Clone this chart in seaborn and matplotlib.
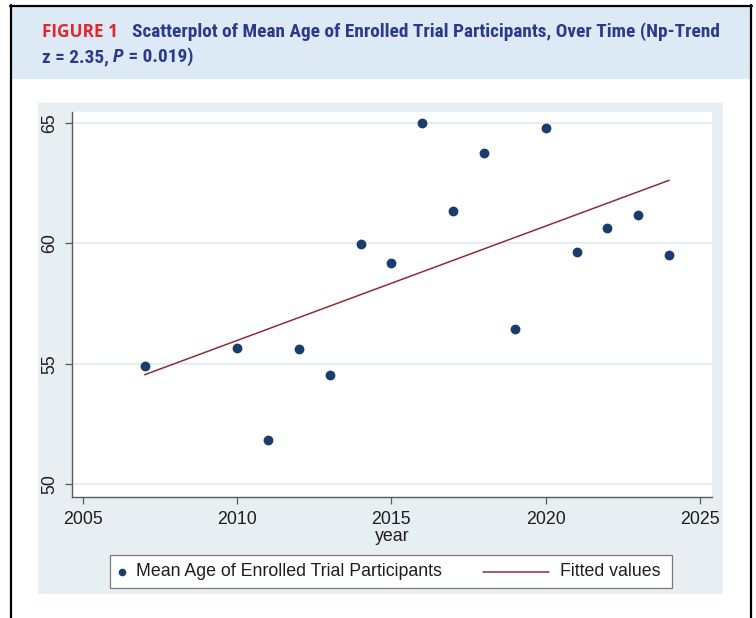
import matplotlib
matplotlib.use("Agg")
import matplotlib.pyplot as plt
from matplotlib.patches import Rectangle
from matplotlib.lines import Line2D
import pandas as pd
import seaborn as sns

# Mean age of enrolled participants by trial year
years = [2007, 2010, 2011, 2012, 2013, 2014, 2015, 2016,
         2017, 2018, 2019, 2020, 2021, 2022, 2023, 2024]
mean_age = [54.89, 55.64, 51.83, 55.60, 54.53, 59.97, 59.18, 65.00,
            61.34, 63.75, 56.44, 64.79, 59.64, 60.64, 61.18, 59.52]

x_ticks = [2005, 2010, 2015, 2020, 2025]
y_ticks = [50, 55, 60, 65]

title_tag = "FIGURE 1"
title_line1 = "Scatterplot of Mean Age of Enrolled Trial Participants, Over Time (Np-Trend"
title_line2 = ["z = 2.35, ", "P", " = 0.019)"]
series_label = "Mean Age of Enrolled Trial Participants"
fit_label = "Fitted values"
x_label = "year"

df = pd.DataFrame({"year": years, "age": mean_age})

sns.set_style("white")
plt.rcParams["font.family"] = ["Liberation Sans", "DejaVu Sans"]

W, H = 756, 618
fig = plt.figure(figsize=(W / 100, H / 100), dpi=100)
fig.patch.set_facecolor("white")


def fx(x):
    return x / W


def fy(y):
    return 1 - y / H


def rect(x0, y0, x1, y1, **kw):
    r = Rectangle((fx(x0), fy(y1)), fx(x1) - fx(x0), fy(y0) - fy(y1),
                  transform=fig.transFigure, **kw)
    fig.patches.append(r)
    return r


# header band and outer frame
rect(12, 7, 750, 79, facecolor="#dde9f4", edgecolor="none", zorder=-2)
# graph region
rect(38, 103, 723, 594, facecolor="#e8eff2", edgecolor="none", zorder=-2)
for xs, ys in [((10.5, 10.5), (5, 618)), ((10, 751.5), (5.5, 5.5)), ((751, 751), (5, 618))]:
    fig.lines.append(Line2D([fx(v) for v in xs], [fy(v) for v in ys],
                            transform=fig.transFigure, color="black", lw=1.6))

ax = fig.add_axes([fx(72), fy(497), fx(712) - fx(72), fy(112) - fy(497)])
ax.set_facecolor("white")

sns.scatterplot(data=df, x="year", y="age", ax=ax, s=50, color="#1b3d6b",
                linewidth=0, zorder=3)
sns.regplot(data=df, x="year", y="age", ax=ax, scatter=False, ci=None,
            truncate=True, line_kws=dict(color="#8f2d35", lw=1.1, zorder=4))

ax.set_xlim(2004.65, 2025.39)
ax.set_ylim(49.46, 65.46)
ax.set_xticks(x_ticks)
ax.set_yticks(y_ticks)
ax.yaxis.grid(True, color="#e2eaee", lw=1.2)
ax.xaxis.grid(False)
ax.set_axisbelow(True)
for side in ["top", "right"]:
    ax.spines[side].set_visible(False)
for side in ["left", "bottom"]:
    ax.spines[side].set_color("#5a5a5a")
    ax.spines[side].set_linewidth(1.0)
ax.tick_params(axis="both", direction="out", length=5, width=0.9, color="#5a5a5a",
               labelsize=12.8, labelcolor="#1e1e1e", bottom=True, left=True)
ax.tick_params(axis="x", pad=5)
ax.tick_params(axis="y", pad=5)
plt.setp(ax.get_yticklabels(), rotation=90, va="center")
ax.set_xlabel(x_label, fontsize=12.8, color="#1e1e1e", labelpad=0)
ax.set_ylabel("")

# legend box
ly = 571.5
rect(110, 555, 672, 588, facecolor="white", edgecolor="#7a7a7a", lw=0.9, zorder=1)
fig.lines.append(Line2D([fx(122)], [fy(ly)], transform=fig.transFigure, marker="o",
                        ms=5.5, color="#1b3d6b", mec="none", lw=0, zorder=2))
fig.text(fx(136), fy(ly), series_label, fontsize=12.8, color="#1e1e1e",
         va="center", ha="left", zorder=2)
fig.lines.append(Line2D([fx(483), fx(549)], [fy(ly), fy(ly)], transform=fig.transFigure,
                        color="#8f2d35", lw=1.1, zorder=2))
fig.text(fx(560), fy(ly), fit_label, fontsize=12.8, color="#1e1e1e",
         va="center", ha="left", zorder=2)

# title, fitted to the header width
head_fonts = ["Liberation Sans Narrow", "Roboto Condensed", "DejaVu Sans"]
tag_fonts = ["Open Sans", "DejaVu Sans"]
navy = "#2d3a8c"
renderer = fig.canvas.get_renderer()


def fit(t, width):
    w = t.get_window_extent(renderer).width
    t.set_fontsize(t.get_fontsize() * width / w)


tag = fig.text(fx(42), fy(37), title_tag, fontsize=12, fontweight="bold",
               color="#e3262d", family=tag_fonts, va="baseline")
fit(tag, 76)
t1 = fig.text(fx(132), fy(37), title_line1, fontsize=12, fontweight="bold",
              color=navy, family=head_fonts, va="baseline")
fit(t1, 588)
size = t1.get_fontsize()
x = 42
for i, piece in enumerate(title_line2):
    t = fig.text(fx(x), fy(62), piece, fontsize=size, fontweight="bold",
                 style="italic" if i == 1 else "normal", color=navy,
                 family=head_fonts, va="baseline")
    x = t.get_window_extent(renderer).x1

fig.savefig("out.png", dpi=100)
